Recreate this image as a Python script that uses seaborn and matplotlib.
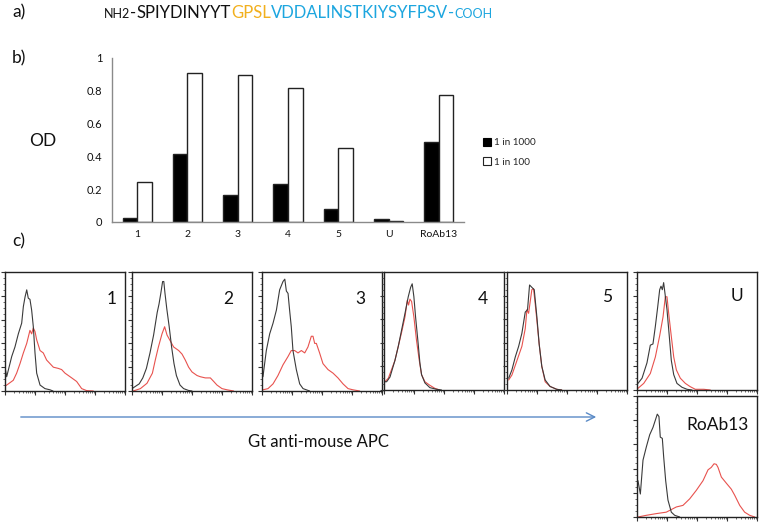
import numpy as np
import pandas as pd
import matplotlib
matplotlib.use("Agg")
import matplotlib.pyplot as plt
import seaborn as sns
from matplotlib.patches import Patch, FancyArrowPatch
from matplotlib.text import Annotation

sns.set_theme(style="white")
plt.rcParams["font.family"] = ["Lato", "DejaVu Sans"]

# ---------------- data: ELISA bar chart ----------------
samples = ["1", "2", "3", "4", "5", "U", "RoAb13"]
dilutions = ["1 in 1000", "1 in 100"]
od_1in1000 = [0.026, 0.417, 0.165, 0.233, 0.077, 0.018, 0.490]
od_1in100 = [0.246, 0.908, 0.894, 0.819, 0.453, 0.004, 0.773]
od_ticks = [0, 0.2, 0.4, 0.6, 0.8, 1.0]
od_tick_labels = ["0", "0.2", "0.4", "0.6", "0.8", "1"]

# ---------------- data: flow histograms (fraction of panel width / height) ----------------
h1_ctrl_x = [0, 0.014, 0.056, 0.083, 0.111, 0.139, 0.153, 0.167, 0.181, 0.194, 0.208, 0.222, 0.236, 0.25, 0.264, 0.292, 0.333, 0.375, 0.40]
h1_ctrl_y = [0.20, 0.12, 0.29, 0.37, 0.48, 0.57, 0.71, 0.79, 0.85, 0.78, 0.77, 0.68, 0.54, 0.32, 0.15, 0.05, 0.02, 0.01, 0.0]
h1_test_x = [0, 0.028, 0.069, 0.097, 0.125, 0.153, 0.181, 0.208, 0.222, 0.236, 0.25, 0.264, 0.292, 0.319, 0.347, 0.375, 0.403, 0.444, 0.472, 0.5, 0.528, 0.556, 0.597, 0.639, 0.681, 0.736]
h1_test_y = [0.04, 0.06, 0.09, 0.15, 0.23, 0.32, 0.40, 0.51, 0.48, 0.53, 0.50, 0.43, 0.34, 0.32, 0.26, 0.23, 0.20, 0.19, 0.18, 0.15, 0.13, 0.11, 0.08, 0.02, 0.003, 0.0]

h2_ctrl_x = [0, 0.03, 0.06, 0.09, 0.12, 0.15, 0.18, 0.21, 0.225, 0.24, 0.255, 0.265, 0.275, 0.29, 0.31, 0.33, 0.35, 0.37, 0.40, 0.43, 0.47, 0.50]
h2_ctrl_y = [0.02, 0.04, 0.06, 0.11, 0.19, 0.32, 0.47, 0.66, 0.73, 0.82, 0.92, 0.92, 0.82, 0.69, 0.54, 0.37, 0.23, 0.13, 0.05, 0.02, 0.005, 0.0]
h2_test_x = [0.01, 0.07, 0.125, 0.17, 0.194, 0.22, 0.25, 0.272, 0.292, 0.314, 0.347, 0.389, 0.417, 0.444, 0.472, 0.5, 0.542, 0.569, 0.611, 0.653, 0.681, 0.708, 0.75, 0.792, 0.847]
h2_test_y = [0.0, 0.02, 0.065, 0.15, 0.26, 0.37, 0.48, 0.54, 0.47, 0.43, 0.37, 0.34, 0.31, 0.26, 0.20, 0.16, 0.13, 0.12, 0.11, 0.11, 0.08, 0.05, 0.02, 0.01, 0.0]

h3_ctrl_x = [0.008, 0.036, 0.064, 0.092, 0.12, 0.147, 0.175, 0.19, 0.203, 0.217, 0.23, 0.244, 0.258, 0.286, 0.314, 0.342, 0.397]
h3_ctrl_y = [0.12, 0.34, 0.48, 0.57, 0.68, 0.85, 0.92, 0.94, 0.84, 0.82, 0.68, 0.54, 0.34, 0.18, 0.06, 0.02, 0.0]
h3_test_x = [0.008, 0.05, 0.092, 0.133, 0.175, 0.217, 0.244, 0.272, 0.3, 0.328, 0.356, 0.383, 0.411, 0.425, 0.439, 0.453, 0.48, 0.508, 0.55, 0.592, 0.633, 0.675, 0.717, 0.758, 0.814]
h3_test_y = [0.01, 0.02, 0.06, 0.13, 0.22, 0.29, 0.34, 0.34, 0.32, 0.34, 0.32, 0.37, 0.46, 0.46, 0.40, 0.40, 0.32, 0.23, 0.18, 0.15, 0.11, 0.06, 0.02, 0.01, 0.0]

h4_ctrl_x = [0.008, 0.022, 0.05, 0.091, 0.119, 0.147, 0.175, 0.202, 0.222, 0.235, 0.249, 0.263, 0.285, 0.299, 0.313, 0.341, 0.382, 0.438, 0.479]
h4_ctrl_y = [0.07, 0.07, 0.11, 0.25, 0.37, 0.51, 0.65, 0.79, 0.87, 0.90, 0.79, 0.62, 0.39, 0.23, 0.13, 0.06, 0.02, 0.006, 0.0]
h4_test_x = [0.008, 0.036, 0.091, 0.147, 0.175, 0.194, 0.205, 0.216, 0.23, 0.249, 0.271, 0.294, 0.313, 0.341, 0.382, 0.424, 0.465]
h4_test_y = [0.07, 0.10, 0.25, 0.49, 0.62, 0.76, 0.72, 0.77, 0.75, 0.62, 0.42, 0.25, 0.13, 0.07, 0.04, 0.014, 0.0]

h5_ctrl_x = [0.014, 0.041, 0.069, 0.097, 0.124, 0.152, 0.171, 0.188, 0.207, 0.227, 0.249, 0.268, 0.29, 0.318, 0.359, 0.414, 0.456]
h5_ctrl_y = [0.10, 0.17, 0.28, 0.37, 0.48, 0.66, 0.68, 0.89, 0.87, 0.85, 0.62, 0.39, 0.20, 0.085, 0.03, 0.006, 0.0]
h5_test_x = [0.014, 0.041, 0.083, 0.124, 0.152, 0.166, 0.180, 0.207, 0.221, 0.235, 0.249, 0.268, 0.29, 0.318, 0.359, 0.414, 0.456]
h5_test_y = [0.085, 0.127, 0.25, 0.37, 0.52, 0.68, 0.65, 0.85, 0.86, 0.73, 0.59, 0.39, 0.20, 0.07, 0.03, 0.006, 0.0]

hU_ctrl_x = [0.008, 0.042, 0.083, 0.111, 0.133, 0.153, 0.172, 0.189, 0.2, 0.211, 0.222, 0.233, 0.25, 0.267, 0.286, 0.306, 0.333, 0.375, 0.417, 0.458]
hU_ctrl_y = [0.056, 0.10, 0.23, 0.38, 0.39, 0.54, 0.70, 0.85, 0.88, 0.85, 0.91, 0.82, 0.68, 0.48, 0.25, 0.13, 0.056, 0.023, 0.006, 0.0]
hU_test_x = [0.008, 0.056, 0.111, 0.153, 0.189, 0.217, 0.236, 0.25, 0.264, 0.283, 0.306, 0.328, 0.361, 0.403, 0.444, 0.486, 0.556, 0.611]
hU_test_y = [0.014, 0.056, 0.14, 0.28, 0.46, 0.62, 0.79, 0.79, 0.65, 0.48, 0.28, 0.17, 0.10, 0.056, 0.028, 0.006, 0.006, 0.0]

hR_ctrl_x = [0.008, 0.028, 0.05, 0.078, 0.106, 0.133, 0.156, 0.169, 0.183, 0.194, 0.211, 0.222, 0.239, 0.258, 0.286, 0.314, 0.356]
hR_ctrl_y = [0.30, 0.19, 0.47, 0.58, 0.68, 0.74, 0.81, 0.85, 0.83, 0.66, 0.65, 0.50, 0.30, 0.14, 0.04, 0.014, 0.0]
hR_test_x = [0.008, 0.078, 0.161, 0.244, 0.328, 0.383, 0.439, 0.494, 0.55, 0.592, 0.619, 0.642, 0.661, 0.675, 0.703, 0.744, 0.786, 0.814, 0.856, 0.897, 0.939, 0.981]
hR_test_y = [0.0, 0.014, 0.028, 0.04, 0.083, 0.096, 0.15, 0.22, 0.30, 0.39, 0.41, 0.44, 0.435, 0.41, 0.33, 0.28, 0.23, 0.18, 0.096, 0.04, 0.014, 0.0]

panel_labels = ["1", "2", "3", "4", "5", "U", "RoAb13"]

# ---------------- figure ----------------
W, H = 761, 527
fig = plt.figure(figsize=(W / 100, H / 100), dpi=100)


def rect(x0, y0, x1, y1):
    return [x0 / W, (H - y1) / H, (x1 - x0) / W, (y1 - y0) / H]


def fx(x):
    return x / W


def fy(y):
    return 1 - y / H


# ---- a) peptide sequence ----
fig.text(fx(12), fy(12.5), "a)", fontsize=12.5, va="center", ha="left", color="#111")
orange = "#F2B01E"
blue = "#1DA6DF"
seq_parts = [("NH2", "#111", 9), ("-", "#111", 12), ("SPIYDINYYT", "#111", 12),
             ("GPSL", orange, 12), ("VDDALINSTKIYSYFPSV", blue, 12),
             ("-", blue, 12), ("COOH", blue, 9)]
base_y = fy(17.5)
last = None
for s, c, fs in seq_parts:
    if last is None:
        last = fig.text(fx(104), base_y, s, color=c, fontsize=fs, va="baseline", ha="left")
    else:
        ann = Annotation(s, xy=(1, base_y), xycoords=(last, "figure fraction"),
                         xytext=(0.1, 0), textcoords="offset points",
                         color=c, fontsize=fs, va="baseline", ha="left",
                         annotation_clip=False)
        fig.add_artist(ann)
        last = ann

# ---- b) bar chart ----
fig.text(fx(12), fy(58), "b)", fontsize=12.5, va="center", ha="left", color="#111")
fig.text(fx(43), fy(141), "OD", fontsize=12.5, va="center", ha="center", color="#111")

axb = fig.add_axes(rect(112, 58, 464, 222))
df = pd.DataFrame({
    "sample": samples * 2,
    "OD": od_1in1000 + od_1in100,
    "dilution": [dilutions[0]] * len(samples) + [dilutions[1]] * len(samples),
})
sns.barplot(data=df, x="sample", y="OD", hue="dilution", order=samples, hue_order=dilutions,
            palette=["black", "white"], edgecolor="#222", linewidth=1.0, width=0.58,
            errorbar=None, legend=False, saturation=1, ax=axb)
axb.set_xlim(-0.5, len(samples) - 0.5)
axb.set_ylim(0, 1)
axb.set_xlabel("")
axb.set_ylabel("")
for sp in ["top", "right"]:
    axb.spines[sp].set_visible(False)
for sp in ["left", "bottom"]:
    axb.spines[sp].set_color("#8a8a8a")
    axb.spines[sp].set_linewidth(1.0)
axb.set_yticks(od_ticks)
axb.set_yticklabels(od_tick_labels)
axb.set_xticks(range(len(samples)))
axb.set_xticklabels(samples)
axb.set_xticks(np.arange(-0.5, len(samples), 1.0), minor=True)
axb.tick_params(axis="x", which="major", length=0, pad=6, labelsize=7.5, labelcolor="#111")
axb.tick_params(axis="x", which="minor", length=4, color="#8a8a8a", width=1, direction="out")
axb.tick_params(axis="y", which="major", length=4, color="#8a8a8a", width=1, direction="out",
                pad=3, labelsize=8, labelcolor="#111")
axb.patch.set_alpha(0)

handles = [Patch(facecolor="black", edgecolor="black", linewidth=0.8),
           Patch(facecolor="white", edgecolor="#222", linewidth=0.8)]
fig.legend(handles=handles, labels=dilutions, loc="center left",
           bbox_to_anchor=(fx(483), fy(152.5)), frameon=False, fontsize=7.2,
           handlelength=0.75, handleheight=0.75, handletextpad=0.3, labelspacing=1.0,
           borderpad=0, borderaxespad=0)

# ---- c) flow cytometry histograms ----
fig.text(fx(12), fy(241), "c)", fontsize=12.5, va="center", ha="left", color="#111")

panel_rects = [(5, 272, 125, 391), (132, 272, 252, 391), (262, 272, 382, 391),
               (384, 272, 504, 390), (507, 272, 627, 390), (637, 272, 757, 390),
               (637, 396, 757, 517)]
curves = [
    (h1_ctrl_x, h1_ctrl_y, h1_test_x, h1_test_y),
    (h2_ctrl_x, h2_ctrl_y, h2_test_x, h2_test_y),
    (h3_ctrl_x, h3_ctrl_y, h3_test_x, h3_test_y),
    (h4_ctrl_x, h4_ctrl_y, h4_test_x, h4_test_y),
    (h5_ctrl_x, h5_ctrl_y, h5_test_x, h5_test_y),
    (hU_ctrl_x, hU_ctrl_y, hU_test_x, hU_test_y),
    (hR_ctrl_x, hR_ctrl_y, hR_test_x, hR_test_y),
]
label_pos = [(0.89, 0.77), (0.80, 0.77), (0.82, 0.77), (0.82, 0.77), (0.83, 0.79), (0.83, 0.80),
             (0.67, 0.76)]

decades = np.arange(0, 4)
minor_x = np.concatenate([(d + np.log10(np.arange(2, 10))) / 4 for d in decades])
major_x = np.linspace(0, 1, 5)

for rct, (cx, cy, tx, ty), lab, lp in zip(panel_rects, curves, panel_labels, label_pos):
    ax = fig.add_axes(rect(*rct))
    sns.lineplot(x=tx, y=ty, sort=False, estimator=None, color="#E8524E", linewidth=0.8, ax=ax)
    sns.lineplot(x=cx, y=cy, sort=False, estimator=None, color="#3a3a3a", linewidth=0.8, ax=ax)
    ax.set_xlim(0, 1)
    ax.set_ylim(0, 1)
    for sp in ax.spines.values():
        sp.set_visible(True)
        sp.set_color("#222")
        sp.set_linewidth(1.0)
    ax.set_xticks(major_x)
    ax.set_xticks(minor_x, minor=True)
    ax.set_yticks(np.linspace(0, 1, 6))
    ax.set_yticks(np.linspace(0, 1, 21), minor=True)
    ax.set_xticklabels([])
    ax.set_yticklabels([])
    ax.tick_params(which="major", length=3, width=0.8, color="#333", direction="out",
                   bottom=True, left=True)
    ax.tick_params(which="minor", length=1.6, width=0.6, color="#555", direction="out",
                   bottom=True, left=True)
    ax.text(lp[0], lp[1], lab, transform=ax.transAxes, fontsize=12.5, ha="center",
            va="center", color="#111")

# arrow and axis caption
fig.add_artist(FancyArrowPatch(
    (fx(18), fy(417)), (fx(599), fy(417)), transform=fig.transFigure,
    arrowstyle="->,head_length=6,head_width=3", color="#5A8AC6", linewidth=1.0))
fig.text(fx(318), fy(442), "Gt anti-mouse APC", fontsize=12, ha="center", va="center",
         color="#111")

fig.savefig("out.png", dpi=100)
